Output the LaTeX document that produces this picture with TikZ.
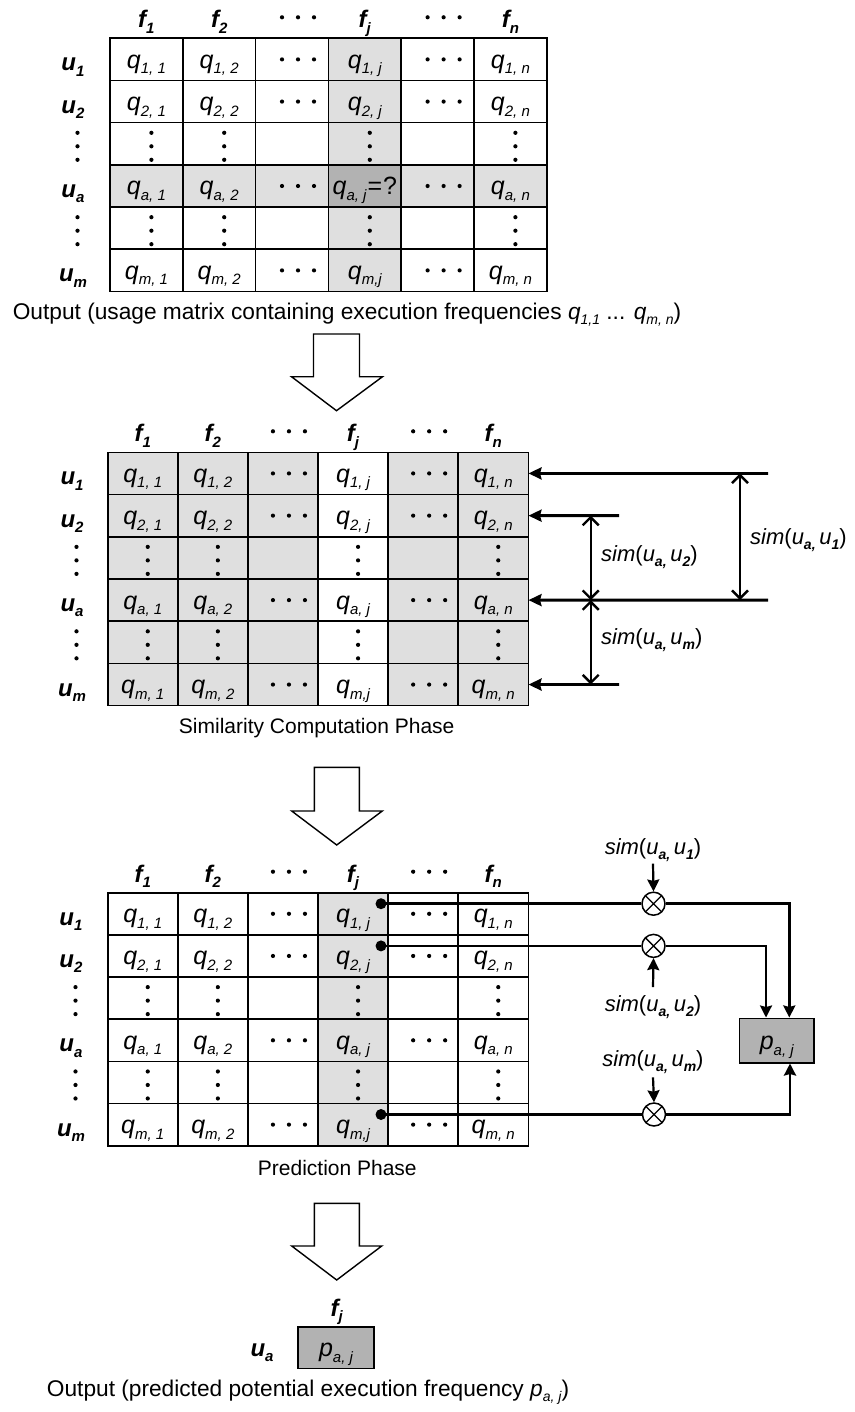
\documentclass[tikz,border=0pt]{standalone}
\usepackage{fontspec}
\setmainfont{Liberation Sans}
\usetikzlibrary{arrows.meta}

\definecolor{lightg}{gray}{0.875}
\definecolor{darkg}{gray}{0.70}

\newcommand\fsz[1]{\fontsize{#1}{#1}\selectfont}
\newcommand\sub[2][15]{\raisebox{-0.22em}{\fsz{#1}#2}}
\newcommand\qcell[1]{\textit{q}\sub{\itshape #1}}
\newcommand\lab[2]{{\bfseries\itshape #1\sub{#2}}}
\newcommand\simlab[1]{\textit{sim}(\textit{u}\sub[14]{\bfseries\itshape a,}\,\textit{u}\sub[14]{\bfseries\itshape #1})}
\newif\ifspecialcell

% #1 prefix, #2 x0, #3 y0, #4 colw, #5 rowh, #6 row-label x
\newcommand\drawmat[6]{%
  \draw[gridl] (#2,#3) rectangle ({#2+6*#4},{#3+6*#5});
  \foreach \i in {1,...,5}{
    \draw[gridl] ({#2+\i*#4},#3) -- ({#2+\i*#4},{#3+6*#5});
    \draw[gridl] (#2,{#3+\i*#5}) -- ({#2+6*#4},{#3+\i*#5});
  }
  \foreach \ri/\rowsub/\rt in {1/1/0,2/2/0,3/x/1,4/a/0,5/x/1,6/m/0}{
    \ifnum\rt=0
      \node[labnode, anchor=base] (#1-u\ri) at (#6,{#3+(\ri-0.5)*#5+11.5}) {\lab{u}{\rowsub}};
    \else
      \foreach \dy in {-11,2.5,16} \fill ({#6+4.5},{#3+(\ri-0.5)*#5+\dy}) circle (2.1);
    \fi
    \foreach \ci/\colsub/\ct in {1/1/0,2/2/0,3/x/1,4/j/0,5/x/1,6/n/0}{
      \def\cont{}%
      \ifnum\rt=0 \ifnum\ct=0 \def\cont{\qcell{\rowsub, \colsub}}\fi\fi
      \ifnum\ri=6 \ifnum\ci=4 \def\cont{\qcell{m,j}}\fi\fi
      \ifspecialcell \ifnum\ri=4 \ifnum\ci=4 \def\cont{\qcell{a, j}\kern1pt\textup{=\kern1pt?}}\fi\fi\fi
      \node[cellnode, minimum width=#4pt, minimum height=#5pt] (#1-\ri-\ci) at ({#2+(\ci-0.5)*#4},{#3+(\ri-0.5)*#5}) {\cont};
      \ifnum\rt=1 \ifnum\ct=0
        \foreach \dy in {-11,2.5,16} \fill ({#2+(\ci-0.5)*#4+5},{#3+(\ri-0.5)*#5+\dy}) circle (2.1);
      \fi\fi
      \ifnum\rt=0 \ifnum\ct=1
        \foreach \dx in {-10,6,22} \fill ({#2+(\ci-0.5)*#4+\dx},{#3+(\ri-0.5)*#5}) circle (2.1);
      \fi\fi
    }
  }
  \foreach \ci/\colsub/\ct in {1/1/0,2/2/0,3/x/1,4/j/0,5/x/1,6/n/0}{
    \ifnum\ct=0
      \node[labnode, anchor=base] (#1-f\ci) at ({#2+(\ci-0.5)*#4},{#3-10.5}) {\lab{f}{\colsub}};
    \else
      \foreach \dx in {-10,6,22} \fill ({#2+(\ci-0.5)*#4+\dx},{#3-21}) circle (2.1);
    \fi
  }
}

\begin{document}
\begin{tikzpicture}[x=1pt,y=-1pt,
  gridl/.style={line width=1.6pt},
  cellnode/.style={inner sep=0pt, font=\fsz{25}\itshape, text height=20pt, text depth=2pt},
  labnode/.style={inner sep=0pt, font=\fsz{24}},
  caption/.style={inner sep=0pt, font=\fsz{21}},
  bigcaption/.style={inner sep=0pt, font=\fsz{22.7}},
  simnode/.style={inner sep=0pt, font=\fsz{22}},
  blockarrow/.style={draw, line width=1.4pt, fill=white, line join=miter},
  conn/.style={line width=2.8pt},
  thinconn/.style={line width=2.2pt},
  tipL/.style={-{Stealth[length=13pt,width=12pt,inset=1.5pt]}},
  tipF/.style={-{Stealth[length=12pt,width=12pt,inset=1.5pt]}},
  dbl/.style={line width=2.4pt, {Straight Barb[length=8pt,width=16pt]}-{Straight Barb[length=8pt,width=16pt]}},
  otimes/.style={circle, draw, line width=1.5pt, fill=white, minimum size=23pt, inner sep=0pt,
    path picture={\draw[line width=1.3pt] (path picture bounding box.north west) -- (path picture bounding box.south east)
      (path picture bounding box.north east) -- (path picture bounding box.south west);}},
  pbox/.style={draw, line width=1.6pt, fill=darkg, inner sep=0pt, font=\fsz{25}, text height=20pt, text depth=2pt},
  dotn/.style={circle, fill, inner sep=0pt, minimum size=11pt}
]
\useasboundingbox (0,0) rectangle (854,1412);

% ---------- top matrix ----------
\fill[lightg] (328.4,38.3) rectangle (401.2,291.5);
\fill[lightg] (110,164.9) rectangle (546.8,207.1);
\fill[darkg] (328.4,164.9) rectangle (401.2,207.1);
\specialcelltrue
\drawmat{T}{110}{38.3}{72.8}{42.2}{73}
\specialcellfalse
\node[bigcaption] (cap1) at (347,315) {Output (usage matrix containing execution frequencies \textit{q}\sub[14]{\itshape 1,1} ... \textit{q}\sub[14]{\itshape m, n})};

\draw[blockarrow] (313.5,334) -- (359.5,334) -- (359.5,376.7) -- (382.5,376.7) -- (336.5,410.7) -- (291.5,376.7) -- (313.5,376.7) -- cycle;

% ---------- middle matrix ----------
\fill[lightg] (107.7,452.3) rectangle (528.3,705.7);
\fill[white] (318,452.3) rectangle (388.1,705.7);
\drawmat{M}{107.7}{452.3}{70.1}{42.23}{72}
\node[caption] (cap2) at (316.7,728) {Similarity Computation Phase};

\coordinate (e1) at (768,473.4);
\coordinate (e2) at (619,515.6);
\coordinate (ea) at (768,600.1);
\coordinate (em) at (619,684.5);
\draw[conn,tipL] (e1) -- (M-1-6.east);
\draw[conn,tipL] (e2) -- (M-2-6.east);
\draw[conn,tipL] (ea) -- (M-4-6.east);
\draw[conn,tipL] (em) -- (M-6-6.east);
\coordinate (v2) at (590.7,515.6);
\coordinate (va) at (590.7,600.1);
\coordinate (vm) at (590.7,684.5);
\coordinate (w1) at (740,473.4);
\coordinate (wa) at (740,600.1);
\draw[dbl] (v2) -- (va);
\draw[dbl] (va) -- (vm);
\draw[dbl] (w1) -- (wa);
\node[simnode, anchor=west] (L2) at (601,557) {\simlab{2}};
\node[simnode, anchor=west] (Lm) at (601,640) {\simlab{m}};
\node[simnode, anchor=west] (L1) at (750,540) {\simlab{1}};

\draw[blockarrow] (314.3,767.3) -- (359.3,767.3) -- (359.3,811) -- (382.3,811) -- (336.7,845) -- (291.7,811) -- (314.3,811) -- cycle;

% ---------- bottom matrix ----------
\fill[lightg] (318,892.7) rectangle (388.1,1145.7);
\drawmat{B}{107.7}{892.7}{70.1}{42.17}{71}
\node[caption] (cap3) at (337.3,1168) {Prediction Phase};

\node[dotn] (D1) at (381,903.7) {};
\node[dotn] (D2) at (381,945.9) {};
\node[dotn] (Dm) at (381,1114.5) {};
\node[otimes] (O1) at (653.5,903.7) {};
\node[otimes] (O2) at (653.5,945.9) {};
\node[otimes] (Om) at (654,1114.5) {};
\node[pbox, minimum width=74.7pt, minimum height=44.4pt] (P) at (776.7,1040.5) {\textit{p}\sub{\itshape a, j}};

\draw[conn] (D1.center) -- (O1);
\draw[conn] (D2.center) -- (O2);
\draw[conn] (Dm.center) -- (Om);
\draw[conn,tipF] (O1) -| ([xshift=12.6pt]P.north);
\draw[thinconn,tipF] (O2) -| ([xshift=-10.7pt]P.north);
\draw[conn,tipF] (Om) -| ([xshift=13.3pt]P.south);

\node[simnode] (S1) at (653,850) {\simlab{1}};
\node[simnode] (S2) at (653,1006.7) {\simlab{2}};
\node[simnode] (Sm) at (653,1061.7) {\simlab{m}};
\draw[thinconn,tipF] ([yshift=-2pt]S1.south) -- (O1.north);
\draw[thinconn,tipF] ([yshift=8pt]S2.north) -- (O2.south);
\draw[thinconn,tipF] ([yshift=-4pt]Sm.south) -- (Om.north);

\draw[blockarrow] (314.3,1203.3) -- (359.3,1203.3) -- (359.3,1246) -- (381.7,1246) -- (336.7,1280) -- (291.7,1246) -- (314.3,1246) -- cycle;

% ---------- final output ----------
\node[labnode, anchor=base] (FJ) at (336.7,1316.5) {\lab{f}{j}};
\node[labnode, anchor=base] (UA) at (262,1356.7) {\lab{u}{a}};
\node[pbox, minimum width=76.3pt, minimum height=41.6pt] (PF) at (336,1347.5) {\textit{p}\sub{\itshape a, j}};
\node[bigcaption] (cap4) at (308,1392) {Output (predicted potential execution frequency \textit{p}\sub[14]{\itshape a, j})};
\end{tikzpicture}
\end{document}
